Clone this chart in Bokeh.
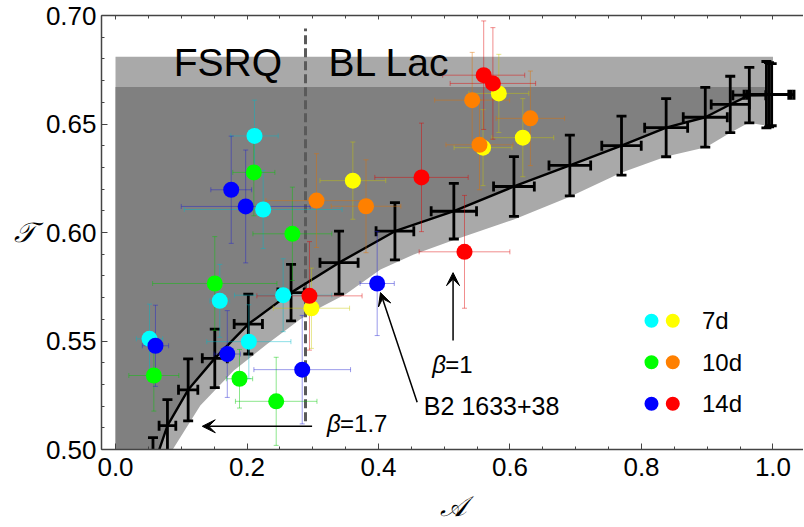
import numpy as np
from bokeh.plotting import figure
from bokeh.models import (Range1d, LinearAxis, Arrow, VeeHead, FixedTicker,
                          PrintfTickFormatter)
from bokeh.core.properties import value
from bokeh.embed import file_html
from bokeh.resources import INLINE

FONT = "Liberation Sans"

# ---------------- data ----------------
# 7d
cyan_x = [0.2114, 0.2246, 0.1586, 0.255, 0.0517, 0.2028]
cyan_y = [0.6445, 0.6106, 0.5685, 0.5711, 0.551, 0.5497]
cyan_xe = [0.036, 0.12, 0.015, 0.074, 0.02, 0.064]
cyan_ye = [0.0165, 0.018, 0.0168, 0.0168, 0.016, 0.017]

yellow_x = [0.361, 0.583, 0.6195, 0.559, 0.298]
yellow_y = [0.6239, 0.6641, 0.6437, 0.6391, 0.5651]
yellow_xe = [0.050, 0.0456, 0.047, 0.044, 0.058]
yellow_ye = [0.0178, 0.018, 0.018, 0.0175, 0.0185]

# 10d
green_x = [0.2104, 0.269, 0.151, 0.0583, 0.1886, 0.2444]
green_y = [0.6277, 0.5994, 0.5765, 0.5341, 0.5326, 0.5222]
green_xe = [0.032, 0.06, 0.0945, 0.038, 0.02, 0.062]
green_ye = [0.02, 0.0215, 0.0216, 0.0164, 0.0135, 0.0203]

orange_x = [0.3057, 0.381, 0.5425, 0.631, 0.5536]
orange_y = [0.6147, 0.6121, 0.661, 0.6526, 0.6404]
orange_xe = [0.077, 0.053, 0.057, 0.052, 0.051]
orange_ye = [0.0216, 0.0214, 0.022, 0.0218, 0.0207]

# 14d
blue_x = [0.176, 0.198, 0.398, 0.0608, 0.170, 0.284]
blue_y = [0.6197, 0.612, 0.5765, 0.5478, 0.544, 0.5368]
blue_xe = [0.031, 0.098, 0.026, 0.02, 0.02, 0.0735]
blue_ye = [0.0247, 0.026, 0.024, 0.0187, 0.02, 0.025]

red_x = [0.4654, 0.560, 0.574, 0.5308, 0.295]
red_y = [0.6254, 0.6725, 0.6687, 0.5911, 0.5708]
red_xe = [0.071, 0.0624, 0.065, 0.069, 0.08]
red_ye = [0.025, 0.025, 0.0257, 0.026, 0.025]

# theoretical curve with error crosses
th_x = [0.057, 0.079, 0.1105, 0.151, 0.202, 0.267, 0.340, 0.425, 0.5146, 0.606,
        0.691, 0.7696, 0.8375, 0.897, 0.935, 0.964, 0.990, 0.994, 0.998]
th_y = [0.4915, 0.511, 0.5275, 0.542, 0.5578, 0.5723, 0.5861, 0.6006, 0.6098, 0.6212,
        0.6309, 0.640, 0.6483, 0.6531, 0.659, 0.6633, 0.6635, 0.6635, 0.6635]
th_xe = [0.011, 0.0127, 0.0147, 0.019, 0.0215, 0.020, 0.029, 0.0287, 0.0345, 0.031,
         0.0317, 0.030, 0.0327, 0.0335, 0.029, 0.025, 0.034, 0.034, 0.034]
th_ye = [0.014, 0.012, 0.0143, 0.0135, 0.0138, 0.013, 0.0145, 0.0132, 0.0128, 0.0138,
         0.014, 0.0136, 0.0134, 0.0138, 0.013, 0.0128, 0.0153, 0.0148, 0.0143]

# lower edge of the light grey band
band_x = [0.070, 0.088, 0.129, 0.180, 0.2307, 0.281, 0.312, 0.35, 0.403, 0.4537,
          0.5146, 0.606, 0.691, 0.768, 0.8375, 0.898, 0.935, 0.963, 0.996]
band_y = [0.490, 0.5005, 0.5203, 0.5364, 0.5486, 0.560, 0.5655, 0.5715, 0.583, 0.5899,
          0.5966, 0.606, 0.6165, 0.6274, 0.635, 0.6393, 0.646, 0.6506, 0.649]
band_top_light = 0.681
band_top_dark = 0.667
divider_x = 0.289

legend_labels = ["7d", "10d", "14d"]
legend_left = ["#00FFFF", "#00FF00", "#0000FF"]
legend_right = ["#FFFF00", "#FF8000", "#FF0000"]

x_ticks = [0.0, 0.2, 0.4, 0.6, 0.8, 1.0]
y_ticks = [0.50, 0.55, 0.60, 0.65, 0.70]

# ---------------- figure ----------------
p = figure(width=803, height=524, output_backend="svg", toolbar_location=None,
           x_range=Range1d(-0.0213, 1.0464), y_range=Range1d(0.50, 0.70),
           min_border_left=101, min_border_right=0, min_border_top=15, min_border_bottom=73)
p.outline_line_color = None
p.grid.visible = False
p.background_fill_color = "white"
p.border_fill_color = "white"

# grey regions
lx = [0.0, 1.0, 1.0] + band_x[::-1] + [0.0]
ly = [band_top_light, band_top_light, band_y[-1]] + band_y[::-1] + [band_y[0]]
p.patch(lx, ly, fill_color="#A9A9A9", line_color=None)
dx = [0.0, 0.99] + th_x[::-1][2:] + [0.0]
dy = [band_top_dark, band_top_dark] + th_y[::-1][2:] + [th_y[0]]
p.patch(dx, dy, fill_color="#808080", line_color=None)

# divider
p.segment(x0=[divider_x], y0=[0.513], x1=[divider_x], y1=[0.694],
          line_color="#5A5A5A", line_width=3, line_dash="9 4")


def errorbars(x, y, xe, ye, color, alpha, lw, cap):
    x = np.array(x); y = np.array(y); xe = np.array(xe); ye = np.array(ye)
    p.segment(x - xe, y, x + xe, y, line_color=color, line_alpha=alpha, line_width=lw)
    p.segment(x, y - ye, x, y + ye, line_color=color, line_alpha=alpha, line_width=lw)
    p.scatter(np.r_[x, x], np.r_[y - ye, y + ye], marker="dash", size=cap, angle=0,
              line_color=color, line_alpha=alpha, line_width=lw)
    p.scatter(np.r_[x - xe, x + xe], np.r_[y, y], marker="dash", size=cap, angle=np.pi / 2,
              line_color=color, line_alpha=alpha, line_width=lw)


# theory
p.line(th_x, th_y, line_color="black", line_width=2.4)
errorbars(th_x, th_y, th_xe, th_ye, "black", 1.0, 2.8, 10)

series = [
    (cyan_x, cyan_y, cyan_xe, cyan_ye, "#00FFFF", "#00B8C8"),
    (yellow_x, yellow_y, yellow_xe, yellow_ye, "#FFFF00", "#C8C800"),
    (green_x, green_y, green_xe, green_ye, "#00FF00", "#00C800"),
    (orange_x, orange_y, orange_xe, orange_ye, "#FF8000", "#E07000"),
    (blue_x, blue_y, blue_xe, blue_ye, "#0000FF", "#2020D0"),
    (red_x, red_y, red_xe, red_ye, "#FF0000", "#E00000"),
]
for sx, sy, sxe, sye, col, ecol in series:
    errorbars(sx, sy, sxe, sye, ecol, 0.45, 1, 5)
for sx, sy, sxe, sye, col, ecol in series:
    p.scatter(sx, sy, size=16, fill_color=col, line_color=None)

# legend
leg_y = [0.5593, 0.5402, 0.5211]
p.scatter([0.8152] * 3, leg_y, size=14, fill_color=legend_left, line_color=None)
p.scatter([0.8476] * 3, leg_y, size=14, fill_color=legend_right, line_color=None)
p.text([0.892] * 3, leg_y, text=legend_labels, text_font=value(FONT),
       text_font_size=value("24px"), text_baseline="middle", text_align="left",
       text_color="black")

# region labels
p.text([0.171], [0.6783], text=["FSRQ"], text_font=value(FONT), text_font_size=value("39px"),
       text_align="center", text_baseline="alphabetic", text_color="black")
p.text([0.324], [0.6783], text=["BL Lac"], text_font=value(FONT), text_font_size=value("39px"),
       text_align="left", text_baseline="alphabetic", text_color="black")

# annotations
p.add_layout(Arrow(end=VeeHead(size=13, fill_color="black", line_color="black"),
                   x_start=0.299, y_start=0.5107, x_end=0.132, y_end=0.5107,
                   line_color="black", line_width=1.5))
p.add_layout(Arrow(end=VeeHead(size=13, fill_color="black", line_color="black"),
                   x_start=0.5134, y_start=0.5502, x_end=0.5134, y_end=0.5815,
                   line_color="black", line_width=1.5))
p.add_layout(Arrow(end=VeeHead(size=13, fill_color="black", line_color="black"),
                   x_start=0.4588, y_start=0.5218, x_end=0.403, y_end=0.5723,
                   line_color="black", line_width=1.5))

p.text([0.3217], [0.512], text=["β"], text_font=value(FONT), text_font_size=value("24px"),
       text_font_style="italic", text_baseline="middle", text_color="black")
p.text([0.3217], [0.512], text=["=1.7"], x_offset=13, text_font=value(FONT),
       text_font_size=value("24px"), text_baseline="middle", text_color="black")
p.text([0.4817], [0.5394], text=["β"], text_font=value(FONT), text_font_size=value("24px"),
       text_font_style="italic", text_baseline="middle", text_color="black")
p.text([0.4817], [0.5394], text=["=1"], x_offset=13, text_font=value(FONT),
       text_font_size=value("24px"), text_baseline="middle", text_color="black")
p.text([0.469], [0.5202], text=["B2 1633+38"], text_font=value(FONT),
       text_font_size=value("25px"), text_baseline="middle", text_color="black")

# axes
for ax in (p.xaxis[0], p.yaxis[0]):
    ax.axis_line_color = "#444444"
    ax.axis_line_width = 1.5
    ax.major_tick_line_color = "#444444"
    ax.minor_tick_line_color = "#444444"
    ax.major_tick_in = 6
    ax.major_tick_out = 0
    ax.minor_tick_in = 3
    ax.minor_tick_out = 0
    ax.major_label_text_font = FONT
    ax.major_label_text_font_size = "26px"
    ax.major_label_text_color = "black"
    ax.axis_label_text_font = FONT
    ax.axis_label_text_font_size = "28px"
    ax.axis_label_text_font_style = "italic"
    ax.axis_label_text_color = "black"
p.xaxis[0].ticker = FixedTicker(ticks=x_ticks,
                                minor_ticks=[round(0.05 * i, 2) for i in range(0, 21)])
p.yaxis[0].ticker = FixedTicker(ticks=y_ticks,
                                minor_ticks=[round(0.50 + 0.01 * i, 2) for i in range(0, 21)])
p.xaxis[0].formatter = PrintfTickFormatter(format="%.1f")
p.yaxis[0].formatter = PrintfTickFormatter(format="%.2f")
p.xaxis[0].major_label_standoff = 8
p.yaxis[0].major_label_standoff = 5
p.xaxis[0].axis_label = "𝒜"
p.xaxis[0].axis_label_standoff = 12
p.yaxis[0].axis_label = "𝒯"
p.yaxis[0].axis_label_orientation = "horizontal"
p.yaxis[0].axis_label_standoff = 8

top = LinearAxis(ticker=FixedTicker(ticks=x_ticks,
                                    minor_ticks=[round(0.05 * i, 2) for i in range(0, 21)]),
                 major_label_text_font_size="0px", major_label_standoff=0,
                 axis_line_color="#444444", axis_line_width=1.5,
                 major_tick_in=4, major_tick_out=0, minor_tick_in=3, minor_tick_out=0,
                 major_tick_line_color="#444444", minor_tick_line_color="#444444")
p.add_layout(top, "above")

open("out.html", "w").write(file_html(p, INLINE))
